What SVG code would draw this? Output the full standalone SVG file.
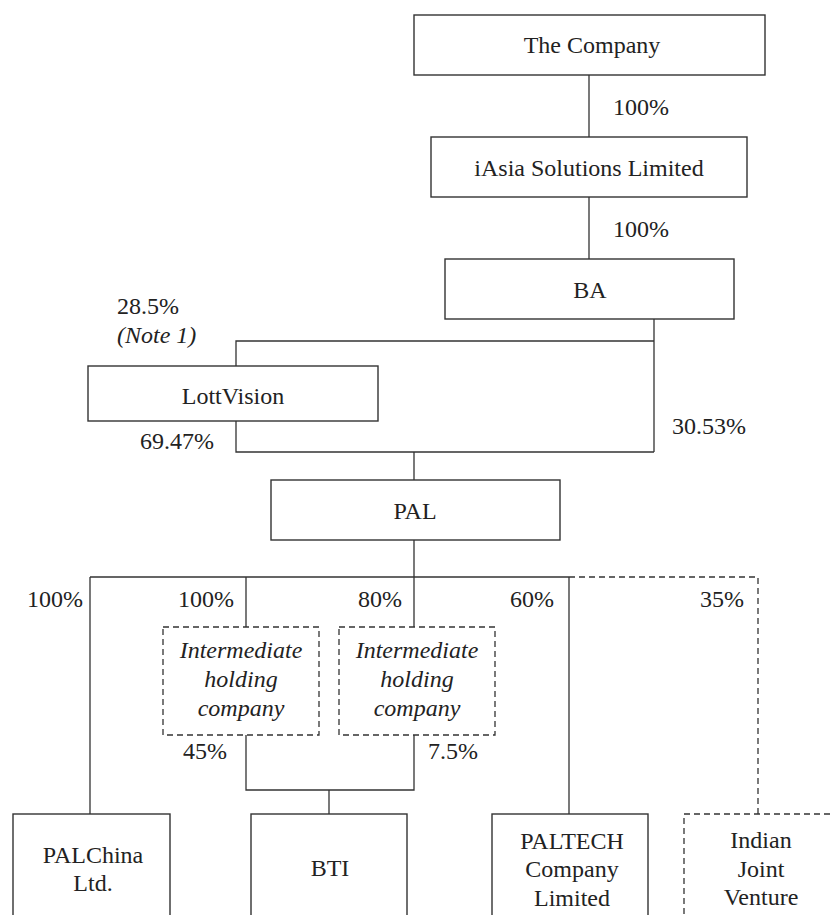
<svg xmlns="http://www.w3.org/2000/svg" width="830" height="915" viewBox="0 0 830 915">
<style>
.box{fill:#fff;stroke:#333;stroke-width:1.4}
.dbox{fill:#fff;stroke:#333;stroke-width:1.3;stroke-dasharray:6 4}
.ln{fill:none;stroke:#333;stroke-width:1.3}
.dln{fill:none;stroke:#333;stroke-width:1.3;stroke-dasharray:6 4}
text{font-family:"Liberation Serif","Times New Roman",serif;font-size:24px;fill:#222}
.c{text-anchor:middle}
.i{font-style:italic}
</style>
<rect width="830" height="915" fill="#fff"/>
<g id="connectors">
<path class="ln" d="M589 75V137M589 197V259"/>
<path class="ln" d="M654 319V452M654 341H236V366M236 421V452H654M414 452V480"/>
<path class="ln" d="M414 540V627M90 577H569M90 577V814M246 577V627M569 577V814"/>
<path class="dln" d="M569 577H758V814"/>
<path class="ln" d="M246 735V790H414V735M329 790V814"/>
</g>
<g id="labels">
<text x="613" y="115">100%</text>
<text x="613" y="237">100%</text>
<text x="117" y="314">28.5%</text>
<text x="117" y="343" class="i">(Note 1)</text>
<text x="140" y="449">69.47%</text>
<text x="672" y="434">30.53%</text>
<text x="27" y="607">100%</text>
<text x="178" y="607">100%</text>
<text x="358" y="607">80%</text>
<text x="510" y="607">60%</text>
<text x="700" y="607">35%</text>
<text x="183" y="759">45%</text>
<text x="428" y="759">7.5%</text>
</g>
<g id="the-company">
<rect class="box" x="414" y="15" width="351" height="60"/>
<text class="c" x="592" y="53">The Company</text>
</g>
<g id="iasia">
<rect class="box" x="431" y="137" width="316" height="60"/>
<text class="c" x="589" y="176">iAsia Solutions Limited</text>
</g>
<g id="ba">
<rect class="box" x="445" y="259" width="289" height="60"/>
<text class="c" x="590" y="298">BA</text>
</g>
<g id="lottvision">
<rect class="box" x="88" y="366" width="290" height="55"/>
<text class="c" x="233" y="404">LottVision</text>
</g>
<g id="pal">
<rect class="box" x="271" y="480" width="289" height="60"/>
<text class="c" x="415" y="519">PAL</text>
</g>
<g id="ihc1">
<rect class="dbox" x="163" y="627" width="156" height="108"/>
<text class="c i" x="241" y="658">Intermediate</text>
<text class="c i" x="241" y="687">holding</text>
<text class="c i" x="241" y="716">company</text>
</g>
<g id="ihc2">
<rect class="dbox" x="339" y="627" width="156" height="108"/>
<text class="c i" x="417" y="658">Intermediate</text>
<text class="c i" x="417" y="687">holding</text>
<text class="c i" x="417" y="716">company</text>
</g>
<g id="palchina">
<rect class="box" x="13" y="814" width="157" height="120"/>
<text class="c" x="93" y="863">PALChina</text>
<text class="c" x="93" y="891">Ltd.</text>
</g>
<g id="bti">
<rect class="box" x="251" y="814" width="156" height="120"/>
<text class="c" x="330" y="876">BTI</text>
</g>
<g id="paltech">
<rect class="box" x="492" y="814" width="156" height="120"/>
<text class="c" x="572" y="849">PALTECH</text>
<text class="c" x="572" y="877">Company</text>
<text class="c" x="572" y="906">Limited</text>
</g>
<g id="indian-jv">
<rect class="dbox" x="684" y="814" width="170" height="120"/>
<text class="c" x="761" y="848">Indian</text>
<text class="c" x="761" y="877">Joint</text>
<text class="c" x="761" y="905">Venture</text>
</g>
</svg>
